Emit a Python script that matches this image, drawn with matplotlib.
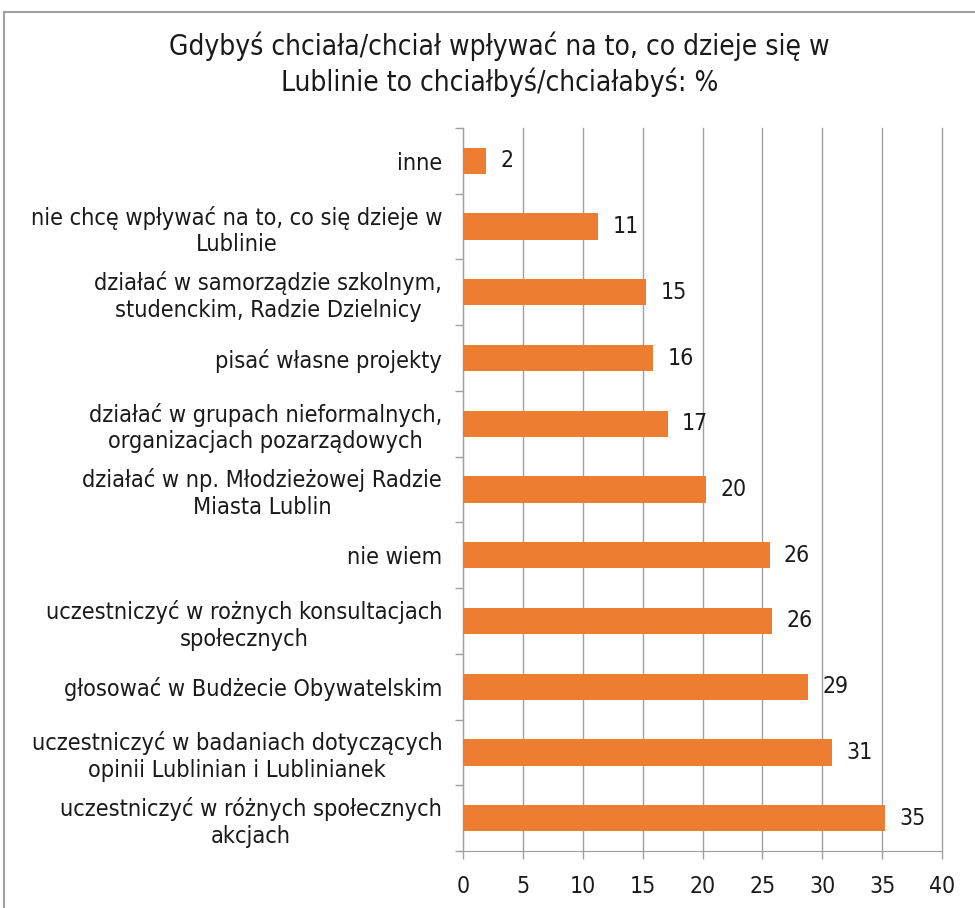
import numpy as np
import matplotlib.pyplot as plt
from matplotlib.patches import Rectangle

plt.rcParams['font.family'] = ['DejaVu Sans']
plt.rcParams['font.stretch'] = 'condensed'

categories = [
    "uczestniczyć w różnych społecznych\nakcjach",
    "uczestniczyć w badaniach dotyczących\nopinii Lublinian i Lublinianek",
    "głosować w Budżecie Obywatelskim",
    "uczestniczyć w rożnych konsultacjach\nspołecznych",
    "nie wiem",
    "działać w np. Młodzieżowej Radzie\nMiasta Lublin",
    "działać w grupach nieformalnych,\norganizacjach pozarządowych",
    "pisać własne projekty",
    "działać w samorządzie szkolnym,\nstudenckim, Radzie Dzielnicy",
    "nie chcę wpływać na to, co się dzieje w\nLublinie",
    "inne",
]
values = [35.2, 30.8, 28.8, 25.8, 25.6, 20.3, 17.1, 15.9, 15.3, 11.3, 1.9]
labels = [35, 31, 29, 26, 26, 20, 17, 16, 15, 11, 2]
xticks = [0, 5, 10, 15, 20, 25, 30, 35, 40]

fig = plt.figure(figsize=(9.75, 9.08), dpi=100)
fig.patches.append(Rectangle((4 / 975, -0.1), 1.2, (908 - 12) / 908 + 0.1,
                             transform=fig.transFigure, fill=False,
                             edgecolor='#a0a0a0', linewidth=1.5))

ax = fig.add_axes([463 / 975, 57 / 908, (942 - 463) / 975, (851 - 128) / 908])
y = np.arange(len(categories))
ax.barh(y, values, height=0.4, color='#ed7d31', zorder=3)
for yi, v, lab in zip(y, values, labels):
    ax.text(v + 1.2, yi, str(lab), va='center', ha='left', fontsize=16.5, color='#1a1a1a')

ax.set_xlim(0, 40)
ax.set_ylim(-0.5, len(categories) - 0.5)
ax.set_xticks(xticks)
ax.set_xticklabels([str(t) for t in xticks], fontsize=16.5, color='#1a1a1a')
ax.set_yticks(y)
ax.set_yticklabels(categories, fontsize=16.8, color='#1a1a1a', multialignment='center')
ax.set_yticks(np.arange(-0.5, len(categories)), minor=True)
ax.tick_params(axis='y', which='major', length=0, pad=15)
ax.tick_params(axis='y', which='minor', length=6, color='#a0a0a0', width=1)
ax.tick_params(axis='x', length=6, color='#a0a0a0', width=1, pad=11)
ax.grid(axis='x', color='#a0a0a0', linewidth=1, zorder=0)
for line in ax.get_xgridlines():
    line.set_clip_on(False)
for s in ['top', 'right']:
    ax.spines[s].set_visible(False)
for s in ['left', 'bottom']:
    ax.spines[s].set_color('#a0a0a0')

fig.text(0.512, 0.965, "Gdybyś chciała/chciał wpływać na to, co dzieje się w\nLublinie to chciałbyś/chciałabyś: %",
         ha='center', va='top', fontsize=20.2, color='#1a1a1a', linespacing=1.25)

fig.savefig('out.png', dpi=100)
